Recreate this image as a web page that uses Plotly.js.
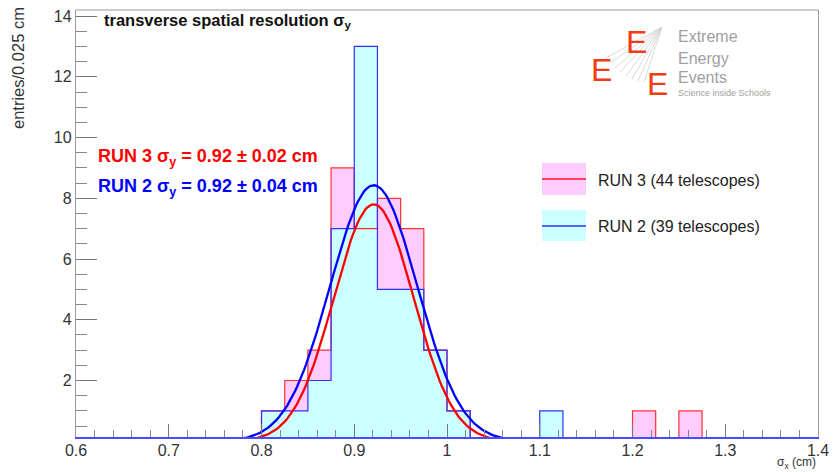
<!DOCTYPE html>
<html><head><meta charset="utf-8">
<script src="https://cdn.plot.ly/plotly-3.0.1.min.js"></script>
<style>html,body{margin:0;padding:0;background:#fff}</style>
</head><body><div id="chart" style="width:833px;height:472px"></div>
<script>
// ---- data ----
const binStart = 0.6;
const binWidth = 0.025;
// counts per 0.025 cm bin, from 0.6 to 1.4 (32 bins)
const run3Counts = [0,0,0,0,0,0,0,0, 1,2,3,9,7,8,7,3,1, 0,0,0,0,0,0,0, 1,0,1,0,0,0,0,0];
const run2Counts = [0,0,0,0,0,0,0,0, 1,1,2,7,13,5,5,3,1, 0,0,0,1,0,0,0, 0,0,0,0,0,0,0,0];
// Gaussian fit parameters: [constant, mean, sigma]
const run3Fit = [7.8, 0.921, 0.043];
const run2Fit = [8.43, 0.921, 0.047];
const legendLabels = ["RUN 3 (44 telescopes)", "RUN 2 (39 telescopes)"];
const fitLabels = ["RUN 3 &#963;<sub>y</sub> = 0.92 &#177; 0.02 cm", "RUN 2 &#963;<sub>y</sub> = 0.92 &#177; 0.04 cm"];
const titleText = "transverse spatial resolution &#963;<sub>y</sub>";
const xTitle = "&#963;<sub>x</sub> (cm)";
const yTitle = "entries/0.025 cm";

// ---- build step arrays ----
function stepX(counts){ const xs=[]; for(let i=0;i<=counts.length;i++) xs.push(+(binStart+i*binWidth).toFixed(4)); return xs; }
function stepY(counts){ return counts.concat([counts[counts.length-1]]); }
function gaus(p){ const xs=[],ys=[]; for(let x=0.74;x<=1.10001;x+=0.002){ xs.push(x); ys.push(p[0]*Math.exp(-0.5*Math.pow((x-p[1])/p[2],2))); } return {xs,ys}; }

const RED='#ff0000', BLUE='#0000ff', PINK='#ffccff', CYAN='#ccffff';
const f3=gaus(run3Fit), f2=gaus(run2Fit);
const traces=[
 {x:stepX(run3Counts),y:stepY(run3Counts),mode:'lines',line:{shape:'hv',width:0,color:PINK},fill:'tozeroy',fillcolor:PINK,hoverinfo:'skip'},
 {x:stepX(run2Counts),y:stepY(run2Counts),mode:'lines',line:{shape:'hv',width:0,color:CYAN},fill:'tozeroy',fillcolor:CYAN,hoverinfo:'skip'},
 {x:stepX(run3Counts),y:stepY(run3Counts),mode:'lines',line:{shape:'hv',width:1.2,color:'#ff3030'}},
 {x:stepX(run2Counts),y:stepY(run2Counts),mode:'lines',line:{shape:'hv',width:1.2,color:'#3030ff'}},
 {x:f3.xs,y:f3.ys,mode:'lines',line:{width:2.3,color:RED}},
 {x:f2.xs,y:f2.ys,mode:'lines',line:{width:2.3,color:BLUE}}
];

// pixel -> paper helpers (plot area: x 76..818, y 10..437)
const L=76,R=818,T=10,B=437;
const px=v=>(v-L)/(R-L), py=v=>(B-v)/(B-T);
const FONT='Liberation Sans, Arial, Helvetica, sans-serif';

const shapes=[
 {type:'line',xref:'paper',yref:'paper',x0:0,x1:1,y0:1,y1:1,line:{color:'#999',width:1.2}},
 {type:'rect',xref:'paper',yref:'paper',x0:px(542),x1:px(586),y0:py(163),y1:py(195),fillcolor:PINK,line:{width:0}},
 {type:'line',xref:'paper',yref:'paper',x0:px(542),x1:px(586),y0:py(179),y1:py(179),line:{color:'#ff4060',width:2}},
 {type:'rect',xref:'paper',yref:'paper',x0:px(542),x1:px(586),y0:py(210),y1:py(241),fillcolor:CYAN,line:{width:0}},
 {type:'line',xref:'paper',yref:'paper',x0:px(542),x1:px(586),y0:py(226),y1:py(226),line:{color:'#3030ff',width:1.5}}
];
// logo fan lines
const fanEnds=[[606,58],[610,63],[615,68],[620,72],[626,76],[632,79],[638,81],[644,82]];
fanEnds.forEach(e=>shapes.push({type:'line',xref:'paper',yref:'paper',x0:px(662),y0:py(27),x1:px(e[0]),y1:py(e[1]),line:{color:'#cfcfcf',width:0.8}}));

const ann=[
 {text:titleText,x:px(102),y:py(21),xanchor:'left',yanchor:'middle',font:{size:16.5,color:'#111',family:FONT,weight:'bold'}},
 {text:'<b>'+fitLabels[0]+'</b>',x:px(96),y:py(157),xanchor:'left',yanchor:'middle',font:{size:18,color:RED,family:FONT}},
 {text:'<b>'+fitLabels[1]+'</b>',x:px(96),y:py(187),xanchor:'left',yanchor:'middle',font:{size:18,color:BLUE,family:FONT}},
 {text:legendLabels[0],x:px(596),y:py(180),xanchor:'left',yanchor:'middle',font:{size:16,color:'#222',family:FONT}},
 {text:legendLabels[1],x:px(596),y:py(226),xanchor:'left',yanchor:'middle',font:{size:16,color:'#222',family:FONT}},
 {text:yTitle,textangle:-90,x:px(18),y:py(5),xanchor:'center',yanchor:'top',font:{size:16.5,color:'#333',family:FONT}},
 {text:xTitle,x:px(818),y:py(463),xanchor:'right',yanchor:'middle',font:{size:12,color:'#333',family:FONT}},
 {text:'Extreme',x:px(676),y:py(37),xanchor:'left',yanchor:'middle',font:{size:16,color:'#a0a0a0',family:FONT}},
 {text:'Energy',x:px(676),y:py(58),xanchor:'left',yanchor:'middle',font:{size:16,color:'#a0a0a0',family:FONT}},
 {text:'Events',x:px(676),y:py(78),xanchor:'left',yanchor:'middle',font:{size:16,color:'#a0a0a0',family:FONT}},
 {text:'Science inside Schools',x:px(676),y:py(93),xanchor:'left',yanchor:'middle',font:{size:9,color:'#a0a0a0',family:FONT}},
 {text:'E',x:px(636),y:py(42),xanchor:'center',yanchor:'middle',font:{size:32,color:'#f03c14',family:FONT}},
 {text:'E',x:px(601),y:py(70),xanchor:'center',yanchor:'middle',font:{size:32,color:'#f03c14',family:FONT}},
 {text:'E',x:px(657),y:py(84),xanchor:'center',yanchor:'middle',font:{size:32,color:'#f03c14',family:FONT}}
].map(a=>Object.assign({xref:'paper',yref:'paper',showarrow:false},a));

const layout={
 width:833,height:472,margin:{l:L,r:833-R,t:T,b:472-B},
 paper_bgcolor:'#fff',plot_bgcolor:'#fff',showlegend:false,
 font:{family:FONT,color:'#333'},
 xaxis:{range:[0.6,1.4],showgrid:false,zeroline:false,showline:true,linecolor:'#4a4aff',linewidth:1.5,
   ticks:'inside',ticklen:13,tickcolor:'#777',tickwidth:1,dtick:0.1,tick0:0.6,ticklabelstandoff:-2,
   minor:{ticks:'inside',ticklen:7,dtick:0.02,tickcolor:'#888',tickwidth:1},
   tickfont:{size:16,color:'#333',family:FONT},layer:'above traces'},
 yaxis:{range:[0.14,14.2],showgrid:false,zeroline:false,showline:true,linecolor:'#999',linewidth:1.2,mirror:true,
   ticks:'inside',ticklen:21,tickcolor:'#777',tickwidth:1,dtick:2,tick0:0,
   minor:{ticks:'inside',ticklen:11,dtick:0.5,tickcolor:'#888',tickwidth:1},
   tickfont:{size:16,color:'#333',family:FONT},layer:'above traces'},
 shapes:shapes,annotations:ann
};
Plotly.newPlot('chart',traces,layout,{staticPlot:true,displayModeBar:false});
</script></body></html>
